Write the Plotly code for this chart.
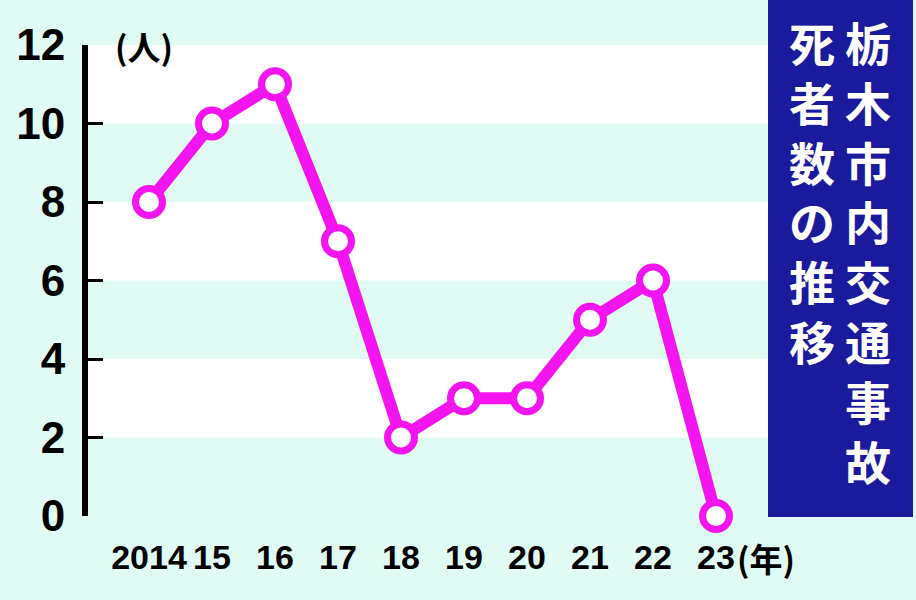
import plotly.graph_objects as go

years = [2014, 2015, 2016, 2017, 2018, 2019, 2020, 2021, 2022, 2023]
deaths = [8, 10, 11, 7, 2, 3, 3, 5, 6, 0]
x_tick_labels = ["2014", "15", "16", "17", "18", "19", "20", "21", "22", "23"]
y_ticks = [0, 2, 4, 6, 8, 10, 12]
white_bands = [(10, 12), (6, 8), (2, 4)]
title_right = "栃木市内交通事故"
title_left = "死者数の推移"
y_unit = "(人)"
x_unit = "(年)"

MINT = "#e0fbf4"
MAGENTA = "#f414f0"
BLUE = "#1a1a9c"

W, H = 916, 600
ml, mr, mt, mb = 88, 148, 45, 84

fig = go.Figure()
fig.add_trace(go.Scatter(
    x=years, y=deaths, mode="lines+markers",
    line=dict(color=MAGENTA, width=12),
    marker=dict(size=27, color="white", line=dict(color=MAGENTA, width=7)),
    cliponaxis=False, showlegend=False, hoverinfo="x+y",
))

shapes = []
for lo, hi in white_bands:
    shapes.append(dict(type="rect", xref="paper", yref="y", x0=0, x1=1, y0=lo, y1=hi,
                       fillcolor="white", line=dict(width=0), layer="below"))

pw = W - ml - mr
ph = H - mt - mb

def px_to_paper_x(px):
    return (px - ml) / pw

def px_to_paper_y(py):
    return (H - mb - py) / ph

# title box
shapes.append(dict(type="rect", xref="paper", yref="paper",
                   x0=1.0, x1=px_to_paper_x(913),
                   y0=px_to_paper_y(517), y1=px_to_paper_y(-2),
                   fillcolor=BLUE, line=dict(width=0), layer="above"))

annotations = []
cjk = dict(family="Noto Sans CJK JP", size=46, color="white", weight="bold")
annotations.append(dict(text="<br>".join(title_right), xref="paper", yref="paper",
                        x=px_to_paper_x(868), y=px_to_paper_y(6),
                        xanchor="center", yanchor="top", showarrow=False, font=cjk))
annotations.append(dict(text="<br>".join(title_left), xref="paper", yref="paper",
                        x=px_to_paper_x(812), y=px_to_paper_y(6),
                        xanchor="center", yanchor="top", showarrow=False, font=cjk))

unit_font = dict(family="Noto Sans CJK JP", size=33, color="black", weight="bold")
annotations.append(dict(text=y_unit, xref="paper", yref="paper",
                        x=px_to_paper_x(144), y=px_to_paper_y(46),
                        xanchor="center", yanchor="middle", showarrow=False, font=unit_font))
annotations.append(dict(text=x_unit, xref="x", yref="paper",
                        x=years[-1], xshift=19, y=px_to_paper_y(558),
                        xanchor="left", yanchor="middle", showarrow=False, font=unit_font))

px_per_x = (716 - 149) / 9
fig.update_layout(
    template="none",
    width=W, height=H,
    margin=dict(l=ml, r=mr, t=mt, b=mb, pad=0, autoexpand=False),
    paper_bgcolor=MINT, plot_bgcolor=MINT,
    shapes=shapes, annotations=annotations,
    xaxis=dict(range=[years[0] - (149 - ml) / px_per_x, years[-1] + (W - mr - 716) / px_per_x],
               tickvals=years, ticktext=x_tick_labels, showgrid=False, zeroline=False,
               showline=False, ticks="", ticklabelstandoff=18, tickangle=0, automargin=False,
               tickfont=dict(family="Liberation Sans", size=34, color="black", weight="bold")),
    yaxis=dict(range=[0, 12], tickvals=y_ticks, showgrid=False, zeroline=False,
               showline=True, linecolor="black", linewidth=6, automargin=False,
               ticks="inside", ticklen=15, tickwidth=3, tickcolor="black",
               ticklabelstandoff=8,
               tickfont=dict(family="Liberation Sans", size=44, color="black", weight="bold")),
)

fig.write_html("out.html", config={"displayModeBar": False},
               post_script="document.body.style.margin='0';")
